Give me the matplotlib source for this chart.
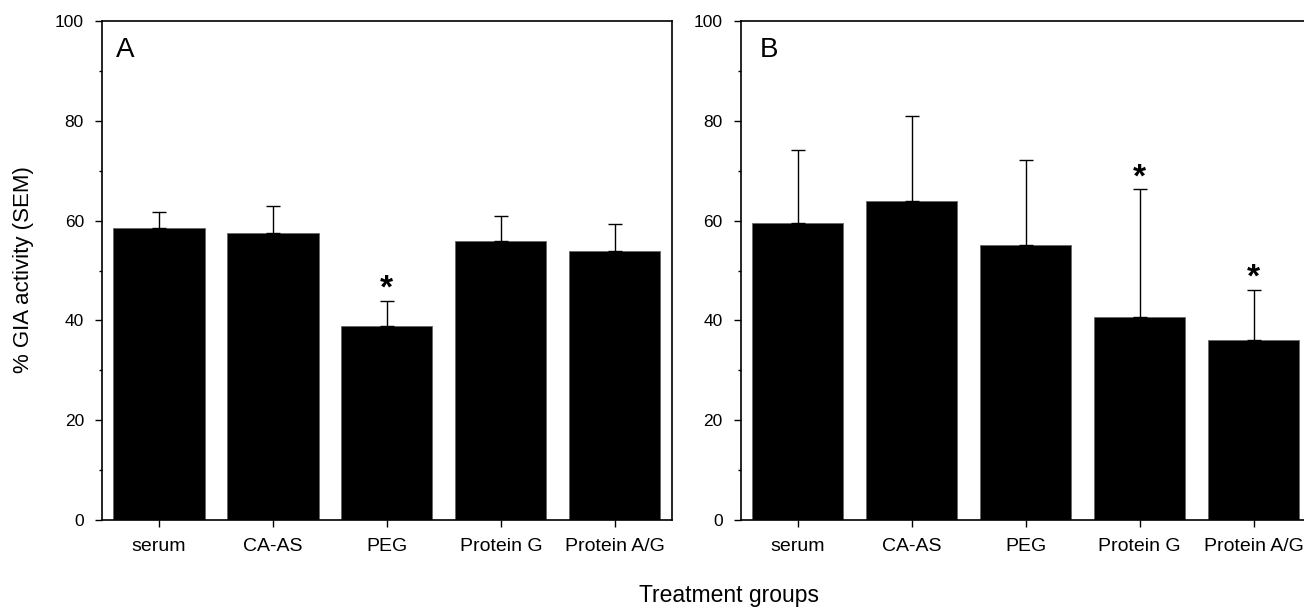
import matplotlib.pyplot as plt
from matplotlib.ticker import MultipleLocator

plt.rcParams["font.family"] = ["Liberation Sans", "DejaVu Sans"]

groups = ["serum", "CA-AS", "PEG", "Protein G", "Protein A/G"]

# panel A
means_a = [58.5, 57.6, 38.8, 55.9, 53.9]
upper_a = [61.7, 62.9, 43.9, 60.9, 59.4]
stars_a = [2]

# panel B
means_b = [59.6, 63.9, 55.1, 40.7, 36.1]
upper_b = [74.1, 81.0, 72.1, 66.3, 46.1]
stars_b = [3, 4]


def draw_panel(ax, means, upper, stars, letter, letter_x):
    xs = list(range(len(groups)))
    errs = [u - m for u, m in zip(upper, means)]
    ax.bar(xs, means, width=0.8, color="black", edgecolor="#666666", linewidth=0.6)
    ax.errorbar(xs, means, yerr=[[0] * len(errs), errs], fmt="none",
                ecolor="black", elinewidth=1.0, capsize=5, capthick=1.0)
    for i in stars:
        ax.text(i, upper[i] + 0.6, "*", ha="center", va="baseline",
                fontsize=24, fontweight="bold")
    ax.set_xlim(-0.5, len(groups) - 0.5)
    ax.set_ylim(0, 100)
    ax.set_xticks(xs)
    ax.set_xticklabels(groups, fontsize=14)
    ax.yaxis.set_major_locator(MultipleLocator(20))
    ax.yaxis.set_minor_locator(MultipleLocator(10))
    ax.tick_params(axis="both", which="major", direction="out", length=5,
                   width=1.0, pad=8)
    ax.tick_params(axis="y", which="major", labelsize=12.5)
    ax.tick_params(axis="y", which="minor", direction="out", length=2.5, width=1.0)
    ax.tick_params(axis="x", pad=8)
    for s in ax.spines.values():
        s.set_linewidth(1.2)
    ax.text(letter_x, 0.968, letter, transform=ax.transAxes, fontsize=20,
            ha="left", va="top")


fig = plt.figure(figsize=(13.04, 6.09), dpi=100)
ax_a = fig.add_axes([0.0782, 0.146, 0.437, 0.8194])
ax_b = fig.add_axes([0.568, 0.146, 0.437, 0.8194])

draw_panel(ax_a, means_a, upper_a, stars_a, "A", 0.024)
draw_panel(ax_b, means_b, upper_b, stars_b, "B", 0.033)

fig.text(0.018, 0.557, "% GIA activity (SEM)", rotation=90, ha="center",
         va="center", fontsize=16)
fig.text(0.559, 0.022, "Treatment groups", ha="center", va="center", fontsize=16.5)

fig.savefig("out.png", dpi=100)
